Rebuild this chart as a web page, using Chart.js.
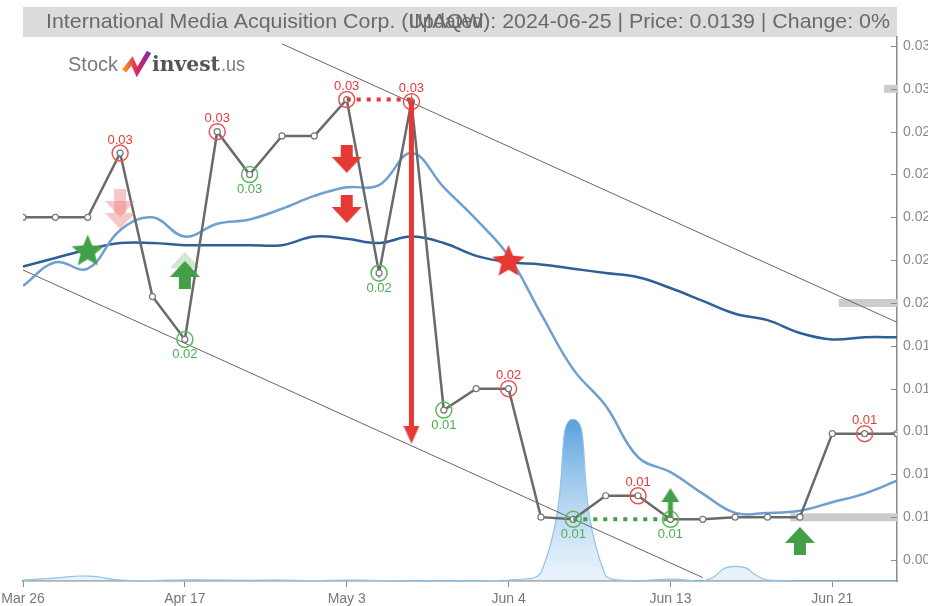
<!DOCTYPE html>
<html>
<head>
<meta charset="utf-8">
<script src="https://cdn.jsdelivr.net/npm/chart.js@4.4.1/dist/chart.umd.min.js"></script>
<style>
  html, body { margin: 0; padding: 0; background: #fff; overflow: hidden; }
  #wrap { position: relative; width: 928px; height: 606px; }
</style>
</head>
<body>
<div id="wrap"><canvas id="chart" width="928" height="606"></canvas></div>
<script>
// ===== DATA =====
const dates = ['Mar 26', 'Mar 27', 'Apr 1', 'Apr 4', 'Apr 10', 'Apr 17', 'Apr 19', 'Apr 23', 'Apr 25', 'Apr 30',
               'May 3', 'May 8', 'May 10', 'May 15', 'May 21', 'Jun 4', 'Jun 6', 'Jun 7', 'Jun 10', 'Jun 11',
               'Jun 13', 'Jun 14', 'Jun 17', 'Jun 18', 'Jun 20', 'Jun 21', 'Jun 24', 'Jun 25'];
const prices = [0.0240, 0.0240, 0.0240, 0.0270, 0.0203, 0.0183, 0.0280, 0.0260, 0.0278, 0.0278,
                0.0295, 0.0214, 0.0294, 0.0150, 0.0160, 0.0160, 0.0100, 0.0099, 0.0110, 0.0110,
                0.0099, 0.0099, 0.0100, 0.0100, 0.0100, 0.0139, 0.0139, 0.0139];
const maShort = [0.0208, 0.0219, 0.0216, 0.0234, 0.0240, 0.0231, 0.0237, 0.0239, 0.0244, 0.0250,
                 0.0254, 0.0255, 0.0270, 0.0254, 0.0239, 0.0222, 0.0195, 0.0169, 0.0152, 0.0128,
                 0.0121, 0.0111, 0.0102, 0.0102, 0.0103, 0.0107, 0.0111, 0.0117];
const maLong = [0.0217, 0.0221, 0.0225, 0.0228, 0.0228, 0.0227, 0.0227, 0.0227, 0.0227, 0.0231,
                0.0230, 0.0228, 0.0231, 0.0228, 0.0222, 0.0219, 0.0218, 0.0216, 0.0214, 0.0212,
                0.0207, 0.0201, 0.0195, 0.0192, 0.0186, 0.0183, 0.0184, 0.0184];
const volumes = [2000, 6000, 10000, 2000, 1000, 2500, 2000, 1500, 2000, 1000,
                 2000, 1000, 500, 500, 500, 2000, 16000, 330000, 10000, 500,
                 4000, 0, 30000, 2000, 0, 0, 0, 0];
const yTicks = [0.008, 0.010, 0.012, 0.014, 0.016, 0.018, 0.020, 0.022, 0.024, 0.026, 0.028, 0.030, 0.032];
const xTickIdx = [0, 5, 10, 15, 20, 25];

const highIdx = [3, 6, 10, 12, 15, 19, 26];
const lowIdx = [5, 7, 11, 13, 17, 20];

const channelUpper = [[8, 0.0321], [27, 0.0191]];
const channelLower = [[0, 0.02154], [21, 0.00718]];
const levels = [0.030, 0.020, 0.010];
const levelFrom = [26.6, 25.2, 23.7];

const buyArrows = [[5, 0.02131], [24, 0.00889]];
const buyArrowsFaded = [[5, 0.02173]];
const sellArrows = [[10, 0.02673], [10, 0.02439]];
const sellArrowsFaded = [[3, 0.02467], [3, 0.02411]];
const smallBuyArrows = [[20, 0.01066]];
const buyStars = [[2, 0.02240]];
const sellStars = [[15, 0.02192]];
const redDotted = [[10, 0.0295], [12, 0.0295]];
const greenDotted = [[17, 0.0099], [20, 0.0099]];
const dropLine = [[12, 0.0295], [12, 0.0142]];
const dropHead = [[12, 0.01385]];

// ===== COLORS =====
const RED = '#e53935';
const GREEN = '#43a047';
const GRAY_AXIS = '#8a8a8a';
const FONT = "'Liberation Sans Narrow', 'Liberation Sans', Arial, sans-serif";

const pts = arr => arr.map(p => ({ x: p[0], y: p[1] }));
const series = arr => arr.map((v, i) => ({ x: i, y: v }));

// ===== POINT STYLES =====
function arrowCanvas(color, up, w, h, stemW, headH, alpha) {
    const c = document.createElement('canvas');
    c.width = w; c.height = h;
    const g = c.getContext('2d');
    g.globalAlpha = alpha;
    g.fillStyle = color;
    g.beginPath();
    const m = w / 2, s = stemW / 2;
    if (up) {
        g.moveTo(m, 0); g.lineTo(w, headH); g.lineTo(m + s, headH); g.lineTo(m + s, h);
        g.lineTo(m - s, h); g.lineTo(m - s, headH); g.lineTo(0, headH);
    } else {
        g.moveTo(m, h); g.lineTo(w, h - headH); g.lineTo(m + s, h - headH); g.lineTo(m + s, 0);
        g.lineTo(m - s, 0); g.lineTo(m - s, h - headH); g.lineTo(0, h - headH);
    }
    g.closePath();
    g.fill();
    return c;
}

function starCanvas(color, r) {
    const c = document.createElement('canvas');
    c.width = c.height = r * 2 + 2;
    const g = c.getContext('2d');
    g.fillStyle = color;
    g.beginPath();
    for (let i = 0; i < 10; i++) {
        const rad = i % 2 === 0 ? r : r * 0.45;
        const a = -Math.PI / 2 + i * Math.PI / 5;
        const x = r + 1 + rad * Math.cos(a), y = r + 1 + rad * Math.sin(a);
        i === 0 ? g.moveTo(x, y) : g.lineTo(x, y);
    }
    g.closePath();
    g.fill();
    return c;
}

function headCanvas(color) {
    const c = document.createElement('canvas');
    c.width = 16; c.height = 18;
    const g = c.getContext('2d');
    g.fillStyle = color;
    g.beginPath(); g.moveTo(0, 0); g.lineTo(16, 0); g.lineTo(8, 18); g.closePath(); g.fill();
    return c;
}

const imgBuy = arrowCanvas(GREEN, true, 30, 28, 12, 16, 1);
const imgBuyFaded = arrowCanvas(GREEN, true, 30, 28, 12, 16, 0.25);
const imgSell = arrowCanvas(RED, false, 30, 28, 12, 16, 1);
const imgSellFaded = arrowCanvas('#f08080', false, 30, 28, 12, 16, 0.45);
const imgSmallBuy = arrowCanvas(GREEN, true, 18, 30, 5, 14, 1);
const imgStarBuy = starCanvas(GREEN, 17);
const imgStarSell = starCanvas(RED, 17);
const imgHead = headCanvas(RED);

function markerSet(data, img, order) {
    return { data: pts(data), showLine: false, pointStyle: img, pointRadius: 10, order: order || 0 };
}

// ===== PLUGIN: title, logo, labels, y tick marks =====
const decor = {
    id: 'decor',
    beforeDraw(chart) {
        const ctx = chart.ctx;
        ctx.save();
        ctx.fillStyle = '#dcdcdc';
        ctx.fillRect(23, 7, 874, 30);

        // title
        const pre = 'International Media Acquisition Corp. (';
        const tick = 'IMAQW';
        const post = '): 2024-06-25 | Price: 0.0139 | Change: 0%';
        ctx.font = '21px ' + FONT;
        ctx.fillStyle = '#6a6a6a';
        ctx.textBaseline = 'middle';
        const full = ctx.measureText(pre + tick + post).width;
        const k = 844 / full;
        ctx.translate(46, 22);
        ctx.scale(k, 1);
        ctx.fillText(pre + tick + post, 0, 0);
        const wPre = ctx.measureText(pre).width;
        const wTick = ctx.measureText(tick).width;
        const wUpd = ctx.measureText('Updated').width;
        ctx.save();
        ctx.translate(wPre, 0);
        ctx.scale(wTick / wUpd, 1);
        ctx.fillText('Updated', 0, 0);
        ctx.restore();
        ctx.restore();

        // logo
        ctx.save();
        ctx.textBaseline = 'alphabetic';
        ctx.font = '20px ' + FONT;
        ctx.fillStyle = '#7a7a7a';
        const ws = ctx.measureText('Stock').width;
        ctx.save();
        ctx.translate(68, 71);
        ctx.scale(50 / ws, 1);
        ctx.fillText('Stock', 0, 0);
        ctx.restore();
        const grad = ctx.createLinearGradient(124, 0, 150, 0);
        grad.addColorStop(0, '#f7941d');
        grad.addColorStop(0.5, '#e0245e');
        grad.addColorStop(1, '#7b2fa5');
        ctx.strokeStyle = grad;
        ctx.lineWidth = 5;
        ctx.lineJoin = 'miter';
        ctx.beginPath();
        ctx.moveTo(124, 71); ctx.lineTo(132, 61); ctx.lineTo(137, 72); ctx.lineTo(149, 52);
        ctx.stroke();
        ctx.font = 'bold 20px "DejaVu Serif", serif';
        ctx.fillStyle = '#555';
        const wi = ctx.measureText('invest').width;
        ctx.save();
        ctx.translate(152, 71);
        ctx.scale(68 / wi, 1);
        ctx.fillText('invest', 0, 0);
        ctx.restore();
        ctx.font = '20px ' + FONT;
        ctx.fillStyle = '#7a7a7a';
        const wu = ctx.measureText('.us').width;
        ctx.save();
        ctx.translate(221, 71);
        ctx.scale(24 / wu, 1);
        ctx.fillText('.us', 0, 0);
        ctx.restore();
        ctx.restore();
    },
    afterDatasetsDraw(chart) {
        const ctx = chart.ctx;
        const xs = chart.scales.x, ys = chart.scales.y;
        ctx.save();
        ctx.font = '13px ' + FONT;
        ctx.textAlign = 'center';
        ctx.textBaseline = 'middle';
        ctx.fillStyle = RED;
        highIdx.forEach(i => ctx.fillText(prices[i].toFixed(2), xs.getPixelForValue(i), ys.getPixelForValue(prices[i]) - 13));
        ctx.fillStyle = '#4caf50';
        lowIdx.forEach(i => ctx.fillText(prices[i].toFixed(2), xs.getPixelForValue(i), ys.getPixelForValue(prices[i]) + 15));
        ctx.restore();
    },
    afterDraw(chart) {
        const ctx = chart.ctx;
        const ys = chart.scales.y;
        const right = chart.chartArea.right;
        ctx.save();
        ctx.strokeStyle = GRAY_AXIS;
        ctx.lineWidth = 1;
        yTicks.forEach(v => {
            const y = Math.round(ys.getPixelForValue(v)) + 0.5;
            ctx.beginPath(); ctx.moveTo(right - 6, y); ctx.lineTo(right, y); ctx.stroke();
        });
        ctx.restore();
    }
};

// ===== CHART =====
const ctx = document.getElementById('chart');
new Chart(ctx, {
    type: 'line',
    data: {
        datasets: [
            // annotations on top
            markerSet(sellArrowsFaded, imgSellFaded),
            markerSet(buyArrowsFaded, imgBuyFaded),
            markerSet(sellArrows, imgSell),
            markerSet(buyArrows, imgBuy),
            markerSet(smallBuyArrows, imgSmallBuy),
            markerSet(buyStars, imgStarBuy),
            markerSet(sellStars, imgStarSell),
            markerSet(dropHead, imgHead),
            { data: pts(dropLine), borderColor: RED, borderWidth: 5, pointRadius: 0, order: 1 },
            { data: highIdx.map(i => ({ x: i, y: prices[i] })), showLine: false, pointRadius: 8,
              pointBorderColor: '#f05050', pointBackgroundColor: 'rgba(0,0,0,0)', pointBorderWidth: 1.5, order: 1 },
            { data: lowIdx.map(i => ({ x: i, y: prices[i] })), showLine: false, pointRadius: 8,
              pointBorderColor: '#5cb85c', pointBackgroundColor: 'rgba(0,0,0,0)', pointBorderWidth: 1.5, order: 1 },
            { data: pts(redDotted), borderColor: RED, borderWidth: 4, borderDash: [4, 6], pointRadius: 0, order: 2 },
            { data: pts(greenDotted), borderColor: GREEN, borderWidth: 4, borderDash: [4, 6], pointRadius: 0, order: 2 },
            // price
            { data: series(prices), borderColor: '#6a6a6a', borderWidth: 2.5, tension: 0,
              pointRadius: 3, pointBackgroundColor: '#fff', pointBorderColor: '#777', pointBorderWidth: 1.2, order: 3 },
            // moving averages
            { data: series(maShort), borderColor: '#6f9fcf', borderWidth: 2.5, tension: 0.4, pointRadius: 0, order: 4 },
            { data: series(maLong), borderColor: '#2d5f99', borderWidth: 2.5, tension: 0.4, pointRadius: 0, order: 4 },
            // channel
            { data: pts(channelUpper), borderColor: '#666', borderWidth: 1, pointRadius: 0, order: 5 },
            { data: pts(channelLower), borderColor: '#666', borderWidth: 1, pointRadius: 0, order: 5 },
            // support / resistance
            ...levels.map((v, i) => ({ data: [{ x: levelFrom[i], y: v }, { x: 27, y: v }],
              borderColor: '#cccccc', borderWidth: 8, pointRadius: 0, order: 6 })),
            // volume
            { data: series(volumes), yAxisID: 'yv', borderColor: '#8cc4ee', borderWidth: 1.2,
              tension: 0.6, pointRadius: 0, fill: 'origin', clip: false, order: 7,
              backgroundColor: (c) => {
                  const area = c.chart.chartArea;
                  if (!area) return 'rgba(120,180,230,0.4)';
                  const g = c.chart.ctx.createLinearGradient(0, area.bottom - 165, 0, area.bottom);
                  g.addColorStop(0, 'rgba(74,152,218,0.95)');
                  g.addColorStop(1, 'rgba(210,230,248,0.45)');
                  return g;
              } }
        ]
    },
    options: {
        responsive: false,
        animation: false,
        events: [],
        layout: { padding: { left: 23, top: 37, right: 0, bottom: 0 } },
        plugins: { legend: { display: false }, tooltip: { enabled: false }, title: { display: false } },
        scales: {
            x: {
                type: 'linear', min: 0, max: 27,
                afterBuildTicks: s => { s.ticks = xTickIdx.map(v => ({ value: v })); },
                afterFit: s => { s.paddingLeft = 0; s.paddingRight = 0; s.height = 25; },
                ticks: { callback: v => dates[v], color: '#777', font: { family: FONT, size: 14 },
                         maxRotation: 0, autoSkip: false, padding: 4 },
                grid: { drawOnChartArea: false, drawTicks: true, tickLength: 6, color: GRAY_AXIS },
                border: { color: GRAY_AXIS, width: 1.5 }
            },
            y: {
                position: 'right', min: 0.00702, max: 0.03242,
                afterBuildTicks: s => { s.ticks = yTicks.map(v => ({ value: v })); },
                afterFit: s => { s.width = 31; },
                ticks: { callback: v => v.toFixed(3), color: '#8a8a8a', font: { family: FONT, size: 14 }, padding: 6 },
                grid: { display: false, drawTicks: false },
                border: { color: GRAY_AXIS, width: 1.5 }
            },
            yv: { display: false, min: 0, max: 1110000 }
        }
    },
    plugins: [decor]
});
</script>
</body>
</html>
